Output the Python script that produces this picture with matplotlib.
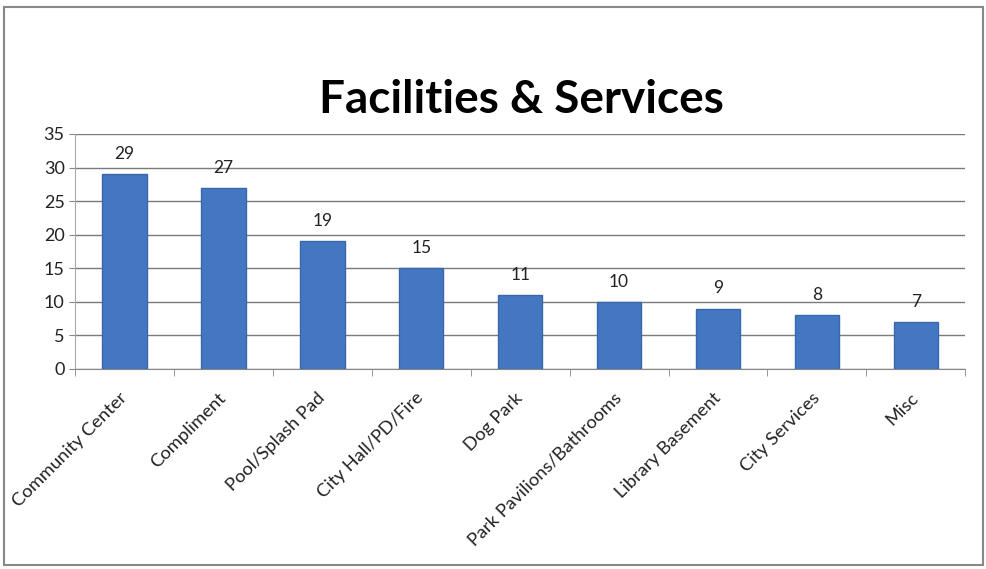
import numpy as np
import matplotlib.pyplot as plt
from matplotlib.patches import Rectangle

categories = ["Community Center", "Compliment", "Pool/Splash Pad", "City Hall/PD/Fire",
              "Dog Park", "Park Pavilions/Bathrooms", "Library Basement", "City Services", "Misc"]
counts = [29, 27, 19, 15, 11, 10, 9, 8, 7]
yticks = [0, 5, 10, 15, 20, 25, 30, 35]


def main() -> None:
    plt.rcParams['font.family'] = ['Lato', 'DejaVu Sans']
    fig = plt.figure(figsize=(9.87, 5.69), dpi=100)
    ax = fig.add_axes([0.076, 0.3515, 0.902, 0.413])

    x = np.arange(len(categories))
    ax.bar(x, counts, width=0.45, color='#4477C2', edgecolor='#3A66AA', linewidth=1, zorder=3)
    for xi, v in zip(x, counts):
        ax.text(xi, v + 3.0, str(v), ha='center', va='center', fontsize=12.5, color='#222222')

    ax.set_xlim(-0.5, len(categories) - 0.5)
    ax.set_ylim(0, 35)
    ax.set_yticks(yticks)
    ax.tick_params(axis='y', labelsize=13, length=4, color='#888888', labelcolor='#222222')
    ax.yaxis.grid(True, color='#7a7a7a', linewidth=1, zorder=0)

    ax.set_xticks(x)
    ax.set_xticklabels(categories, rotation=45, ha='right', va='center', rotation_mode='anchor',
                       fontsize=13.2, color='#222222')
    ax.tick_params(axis='x', which='major', length=0, pad=19)
    ax.set_xticks(np.arange(-0.5, len(categories)), minor=True)
    ax.tick_params(axis='x', which='minor', length=5, color='#888888')

    for s in ['top', 'right']:
        ax.spines[s].set_visible(False)
    ax.spines['left'].set_color('#aaaaaa')
    ax.spines['bottom'].set_color('#888888')

    fig.text(0.528, 0.824, "Facilities & Services", ha='center', va='center',
             fontsize=33, fontweight='bold', color='black')

    fig.patches.append(Rectangle((0.004, 0.007), 0.992, 0.981, transform=fig.transFigure,
                                 fill=False, edgecolor='#888888', linewidth=1.5))

    plt.savefig("out.png", dpi=100)
    plt.close()


if __name__ == "__main__":
    main()
